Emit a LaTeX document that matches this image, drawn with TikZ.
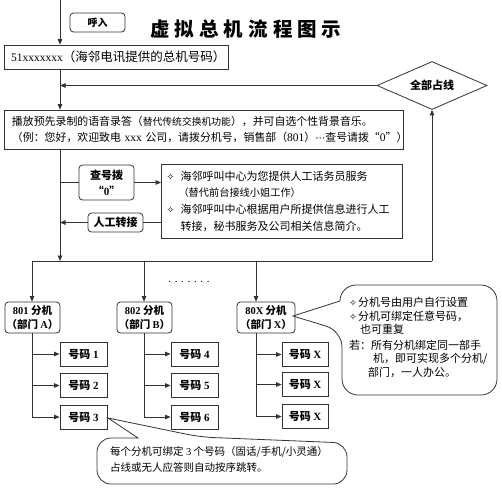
\documentclass[tikz,border=0pt]{standalone}
\usepackage{fontspec}
\setmainfont{Liberation Serif}
\newfontfamily\cjk{Noto Sans CJK SC}
\newfontfamily\symf{DejaVu Sans}
\usetikzlibrary{arrows.meta,shapes.geometric,calc}
\newcommand\dia[1]{\makebox[#1][l]{\symf\fontsize{9.5}{9.5}\selectfont ✧}}
\newcommand\Ltn[1]{{\rmfamily #1}}
\begin{document}
\begin{tikzpicture}[x=1pt,y=-1pt,
  ln/.style={draw=black!80,line width=0.8pt},
  arr/.style={ln,-{Triangle[length=5.5pt,width=4.5pt]}},
  sq/.style={ln,rectangle,inner sep=0pt,font=\cjk},
  rd/.style={sq,rounded corners=3.5pt},
  num/.style={sq,minimum height=24pt,font=\cjk\bfseries\fontsize{11}{13}\selectfont},
  ext/.style={rd,minimum width=55pt,minimum height=31pt,align=center,font=\cjk\bfseries\fontsize{10.5}{14.5}\selectfont},
  txt/.style={inner sep=0pt,align=left,anchor=north west}
]
\useasboundingbox (0,0) rectangle (502,490);

% top part
\node[rd,minimum width=55pt,minimum height=19pt,font=\cjk\bfseries\fontsize{10}{12}\selectfont] (hr) at (97.5,22.5) {呼入};
\node[font=\cjk\bfseries\fontsize{19.5}{22}\selectfont] (title) at (246,29)
  {虚\hspace{5pt}拟\hspace{5pt}总\hspace{5pt}机\hspace{5pt}流\hspace{5pt}程\hspace{5pt}图\hspace{5pt}示};
\node[sq,minimum width=224pt,minimum height=24pt,text width=210pt,inner xsep=7pt,align=left,
  font=\cjk\fontsize{12.5}{14}\selectfont] (b51) at (116,57)
  {{\rmfamily\fontsize{11.5}{14}\selectfont 51xxxxxxx}（海邻电讯提供的总机号码）};
\node[ln,diamond,aspect=2.29,minimum width=110pt,minimum height=48pt,inner sep=0pt,
  font=\cjk\bfseries\fontsize{11}{13}\selectfont] (diam) at (432,85.5) {全部占线};
\node[sq,minimum width=399pt,minimum height=39pt,text width=383pt,inner xsep=8pt,align=left,
  font=\cjk\fontsize{10.9}{16}\selectfont] (b2) at (203.5,129.5)
  {播放预先录制的语音录答（{\fontsize{9.8}{16}\selectfont 替代传统交换机功能}），并可自选个性背景音乐。\\
   （例：您好，欢迎致电~{\rmfamily\fontsize{11.5}{16}\selectfont xxx}~公司，请拨分机号，销售部（{\rmfamily\fontsize{11.5}{16}\selectfont 801}）{\symf\fontsize{10}{16}\selectfont ⋯}查号请拨“{\rmfamily\fontsize{11.5}{16}\selectfont 0}”）};

% middle
\node[rd,minimum width=55pt,minimum height=35pt,align=center,
  font=\cjk\bfseries\fontsize{11}{16}\selectfont] (q0) at (106.5,182.5) {查号拨\\“\Ltn{0}”};
\node[sq,minimum width=241pt,minimum height=74pt,text width=231pt,inner xsep=5pt,align=left,
  font=\cjk\fontsize{11}{16.7}\selectfont] (big) at (282,201)
  {\dia{14pt}海邻呼叫中心为您提供人工话务员服务\\
   \hspace*{12pt}{\fontsize{10.2}{16.7}\selectfont（替代前台接线小姐工作）}\\
   \dia{14pt}海邻呼叫中心根据用户所提供信息进行人工\\
   \hspace*{14pt}转接，秘书服务及公司相关信息简介。};
\node[rd,minimum width=55pt,minimum height=19pt,
  font=\cjk\bfseries\fontsize{11}{13}\selectfont] (rg) at (115.5,222.5) {人工转接};

% extensions
\node[ext] (e1) at (32.5,317.5) {\Ltn{801}~分机\\（部门~\Ltn{A}）};
\node[ext] (e2) at (144.5,317.5) {\Ltn{802}~分机\\（部门~\Ltn{B}）};
\node[ext,minimum width=58pt] (e3) at (266,317.5) {\Ltn{80X}~分机\\（部门~\Ltn{X}）};
\node[font=\rmfamily\fontsize{11}{11}\selectfont] (dots) at (189,282) {. . . . . . .};

\node[num,minimum width=47pt] (n11) at (83.5,354) {号码~\Ltn{1}};
\node[num,minimum width=47pt] (n12) at (83.5,385.5) {号码~\Ltn{2}};
\node[num,minimum width=47pt] (n13) at (83.5,417) {号码~\Ltn{3}};
\node[num,minimum width=47pt] (n21) at (194.5,354) {号码~\Ltn{4}};
\node[num,minimum width=47pt] (n22) at (194.5,385.5) {号码~\Ltn{5}};
\node[num,minimum width=47pt] (n23) at (194.5,417) {号码~\Ltn{6}};
\node[num,minimum width=46pt] (n31) at (305,354.5) {号码~\Ltn{X}};
\node[num,minimum width=46pt] (n32) at (305,384.5) {号码~\Ltn{X}};
\node[num,minimum width=46pt] (n33) at (305,416.5) {号码~\Ltn{X}};

% callouts
\draw[ln] (293,316) -- (340,301) [rounded corners=16pt] -- (340,285) -- (497,285) -- (497,395) -- (342,395) -- (342,331) [sharp corners] -- cycle;
\node[txt,font=\cjk\fontsize{11}{13.5}\selectfont] (c1) at (349,297)
  {\dia{9pt}分机号由用户自行设置\\
   \dia{9pt}分机可绑定任意号码，\\
   \hspace*{11pt}也可重复\\[2pt]
   若：所有分机绑定同一部手\\
   \hspace*{24pt}机，即可实现多个分机/\\
   \hspace*{19pt}部门，一人办公。};
\draw[ln] (108,418) -- (138,438) [rounded corners=14pt] -- (97,438) -- (97,484) -- (347,484) -- (347,443) -- (200,437) [sharp corners] -- cycle;
\node[txt,font=\cjk\fontsize{10.5}{16}\selectfont] (c2) at (110,446)
  {每个分机可绑定~\Ltn{3}~个号码（固话/手机/小灵通）\\
   占线或无人应答则自动按序跳转。};

% connectors
\coordinate (top) at (60,0);
\coordinate (busL) at (32,261);
\coordinate (busR) at (432,261);
\coordinate (d2) at (144,261);
\coordinate (d3) at (256,261);
\draw[arr] (top) -- (top |- b51.north);
\draw[arr] (b51.south -| top) -- (b2.north -| top);
\draw[arr] (diam.west) -- (diam.west -| top);
\draw[arr] (b2.south -| top) -- (busL -| top);
\draw[ln] (busL) -- (busR);
\draw[arr] (busR) -- (diam.south);
\draw[ln] (q0.west -| top) -- (q0.west);
\draw[arr] (q0.east) -- (q0.east -| big.west);
\draw[ln] (rg.east -| big.west) -- (rg.east);
\draw[arr] (rg.west) -- (rg.west -| top);
\draw[arr] (busL) -- (busL |- e1.north);
\draw[arr] (d2) -- (d2 |- e2.north);
\draw[arr] (d3) -- (d3 |- e3.north);
\foreach \d/\e/\a/\b/\c in {busL/e1/n11/n12/n13, d2/e2/n21/n22/n23, d3/e3/n31/n32/n33}{
  \draw[ln] (\d |- \e.south) -- (\d |- \c.west);
  \draw[arr] (\d |- \a.west) -- (\a.west);
  \draw[arr] (\d |- \b.west) -- (\b.west);
  \draw[arr] (\d |- \c.west) -- (\c.west);
}
\end{tikzpicture}
\end{document}
